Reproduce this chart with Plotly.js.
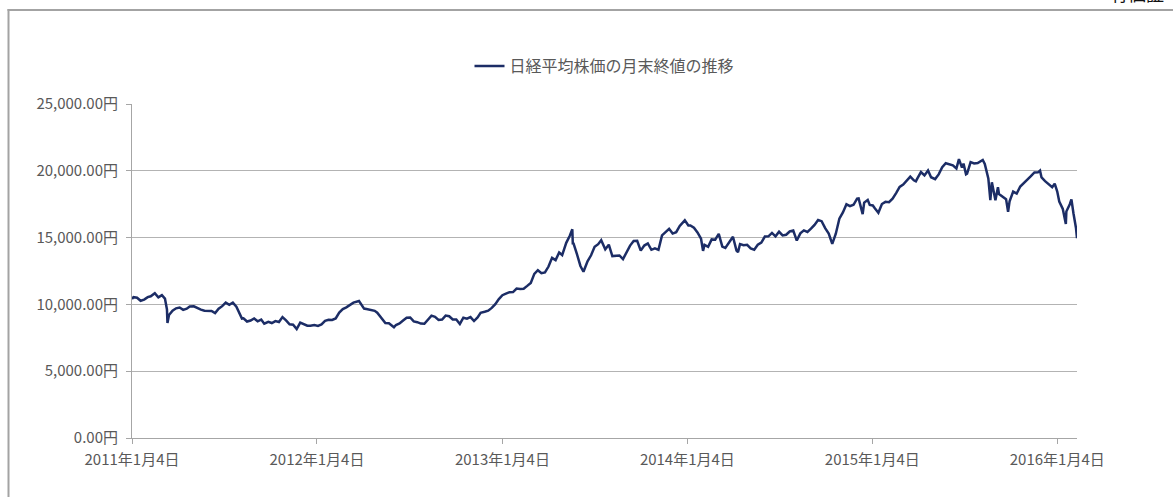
<!DOCTYPE html>
<html>
<head>
<meta charset="utf-8">
<script src="https://cdn.plot.ly/plotly-3.0.1.min.js"></script>
<style>
html,body{margin:0;padding:0;background:#fff;overflow:hidden;}
#chart{width:1173px;height:497px;}
</style>
</head>
<body>
<div id="chart"></div>
<script>
// ---- data ----
const seriesName = "日経平均株価の月末終値の推移";
const dates = [
"2011-01-04","2011-01-07","2011-01-14","2011-01-21","2011-01-28","2011-02-04","2011-02-10","2011-02-18","2011-02-25","2011-03-04","2011-03-10","2011-03-14","2011-03-15","2011-03-18","2011-03-25",
"2011-04-01","2011-04-08","2011-04-15","2011-04-22","2011-04-28","2011-05-06","2011-05-13","2011-05-20","2011-05-27","2011-06-03","2011-06-10","2011-06-17","2011-06-24",
"2011-07-01","2011-07-08","2011-07-15","2011-07-22","2011-07-29","2011-08-05","2011-08-09","2011-08-12","2011-08-19","2011-08-26","2011-09-02","2011-09-09","2011-09-16","2011-09-22","2011-09-30",
"2011-10-07","2011-10-14","2011-10-21","2011-10-28","2011-11-04","2011-11-11","2011-11-18","2011-11-25","2011-12-02","2011-12-09","2011-12-16","2011-12-22","2011-12-30",
"2012-01-06","2012-01-13","2012-01-20","2012-01-27","2012-02-03","2012-02-10","2012-02-17","2012-02-24","2012-03-02","2012-03-09","2012-03-16","2012-03-27","2012-04-06","2012-04-13","2012-04-20","2012-04-27",
"2012-05-02","2012-05-11","2012-05-18","2012-05-25","2012-06-04","2012-06-08","2012-06-15","2012-06-22","2012-06-29","2012-07-06","2012-07-13","2012-07-20","2012-07-27",
"2012-08-03","2012-08-10","2012-08-17","2012-08-24","2012-08-31","2012-09-07","2012-09-14","2012-09-21","2012-09-28","2012-10-05","2012-10-12","2012-10-19","2012-10-26",
"2012-11-02","2012-11-09","2012-11-16","2012-11-22","2012-11-30","2012-12-07","2012-12-14","2012-12-21","2012-12-28",
"2013-01-04","2013-01-11","2013-01-18","2013-01-25","2013-02-01","2013-02-08","2013-02-15","2013-02-22","2013-03-01","2013-03-08","2013-03-15","2013-03-22","2013-03-29",
"2013-04-05","2013-04-12","2013-04-19","2013-04-26","2013-05-02","2013-05-10","2013-05-17","2013-05-22","2013-05-23","2013-05-24","2013-05-31","2013-06-07","2013-06-13","2013-06-21","2013-06-28",
"2013-07-05","2013-07-12","2013-07-18","2013-07-26","2013-08-02","2013-08-09","2013-08-16","2013-08-23","2013-08-30","2013-09-06","2013-09-13","2013-09-20","2013-09-27",
"2013-10-04","2013-10-11","2013-10-18","2013-10-25","2013-11-01","2013-11-08","2013-11-15","2013-11-22","2013-11-29","2013-12-06","2013-12-13","2013-12-20","2013-12-30",
"2014-01-06","2014-01-10","2014-01-17","2014-01-24","2014-01-31","2014-02-04","2014-02-07","2014-02-14","2014-02-21","2014-02-28","2014-03-07","2014-03-14","2014-03-20","2014-03-28",
"2014-04-04","2014-04-11","2014-04-14","2014-04-18","2014-04-25","2014-05-02","2014-05-09","2014-05-16","2014-05-23","2014-05-30","2014-06-06","2014-06-13","2014-06-20","2014-06-27",
"2014-07-04","2014-07-11","2014-07-18","2014-07-25","2014-08-01","2014-08-08","2014-08-15","2014-08-22","2014-08-29","2014-09-05","2014-09-12","2014-09-19","2014-09-26",
"2014-10-03","2014-10-10","2014-10-17","2014-10-24","2014-10-31","2014-11-07","2014-11-14","2014-11-21","2014-11-28","2014-12-05","2014-12-08","2014-12-12","2014-12-16","2014-12-19","2014-12-26","2014-12-30",
"2015-01-05","2015-01-09","2015-01-16","2015-01-23","2015-01-30","2015-02-06","2015-02-13","2015-02-20","2015-02-27","2015-03-06","2015-03-13","2015-03-20","2015-03-27","2015-03-31",
"2015-04-03","2015-04-10","2015-04-17","2015-04-24","2015-04-30","2015-05-08","2015-05-15","2015-05-22","2015-05-29","2015-06-05","2015-06-12","2015-06-19","2015-06-24","2015-06-30",
"2015-07-03","2015-07-08","2015-07-10","2015-07-17","2015-07-24","2015-07-31","2015-08-07","2015-08-10","2015-08-14","2015-08-21","2015-08-25","2015-08-28",
"2015-09-04","2015-09-09","2015-09-11","2015-09-18","2015-09-25","2015-09-29","2015-10-02","2015-10-09","2015-10-16","2015-10-23","2015-10-30",
"2015-11-06","2015-11-13","2015-11-20","2015-11-27","2015-12-01","2015-12-04","2015-12-11","2015-12-18","2015-12-25","2015-12-30",
"2016-01-04","2016-01-08","2016-01-15","2016-01-21","2016-01-22","2016-01-29","2016-02-01","2016-02-05","2016-02-09","2016-02-10","2016-02-12"
];
const closes = [
10398,10541,10499,10274,10360,10543,10606,10842,10526,10693,10434,9620,8605,9206,9536,
9708,9768,9591,9682,9849,9859,9716,9607,9521,9492,9514,9351,9678,
9868,10137,9974,10132,9833,9299,8944,8963,8719,8797,8950,8737,8864,8560,8700,
8606,8747,8678,9050,8801,8514,8479,8160,8643,8536,8401,8395,8455,
8390,8500,8766,8841,8831,8947,9384,9647,9777,9930,10130,10255,9688,9638,9561,9520,
9380,8953,8611,8593,8295,8460,8569,8798,9006,9020,8724,8670,8566,
8555,8891,9162,9070,8839,8871,9159,9110,8870,8863,8534,9002,8933,
9051,8757,9024,9366,9446,9527,9737,10013,10395,
10688,10801,10913,10926,11191,11153,11173,11385,11606,12283,12560,12338,12397,
12833,13485,13316,13884,13694,14607,15138,15627,14483,14612,13774,12877,12445,13230,13677,
14309,14506,14808,14129,14466,13615,13650,13660,13389,13860,14404,14742,14760,
14024,14404,14561,14088,14201,14086,15165,15381,15661,15299,15403,15870,16291,
15908,15912,15734,15391,14914,14008,14462,14313,14865,14841,15274,14327,14224,14696,
15063,14028,13910,14516,14429,14457,14199,14097,14462,14632,15077,15097,15349,15095,
15437,15164,15215,15457,15523,14778,15318,15539,15425,15668,15948,16321,16229,
15708,15300,14532,15291,16413,16880,17490,17357,17459,17920,17935,17371,16755,17621,17818,17450,
17408,17197,16864,17511,17674,17648,17913,18332,18797,18971,19254,19560,19285,19206,
19435,19908,19652,20020,19520,19379,19732,20264,20563,20461,20407,20174,20868,20236,
20540,19737,19780,20650,20544,20585,20724,20808,20520,19436,17806,19136,
17792,18770,18264,18070,17880,16930,17725,18438,18291,18826,19083,
19265,19597,19880,19883,20012,19504,19230,18986,18770,19033,
18450,17698,17147,16017,16958,17518,17865,16819,16085,15713,14952
];
const xTickVals = ["2011-01-04","2012-01-04","2013-01-04","2014-01-04","2015-01-04","2016-01-04"];
const xTickText = ["2011年1月4日","2012年1月4日","2013年1月4日","2014年1月4日","2015年1月4日","2016年1月4日"];
const yTickVals = [0,5000,10000,15000,20000,25000];
const yTickText = ["0.00円","5,000.00円","10,000.00円","15,000.00円","20,000.00円","25,000.00円"];
const cornerText = "有価証";

// ---- layout geometry ----
const W = 1173, H = 497;
const M = {l:132, r:96, t:104, b:59};
const PW = W - M.l - M.r, PH = H - M.t - M.b;
const px = v => (v - M.l) / PW;
const py = v => (H - M.b - v) / PH;

const font = 'Noto Sans CJK JP, Noto Sans, sans-serif';
const grey = '#595959';

const trace = {
  x: dates, y: closes, type: 'scatter', mode: 'lines', name: seriesName,
  line: {color: '#1c2d66', width: 2.5}
};

const layout = {
  width: W, height: H,
  margin: M,
  paper_bgcolor: '#fff', plot_bgcolor: '#fff',
  font: {family: font, size: 15, color: grey},
  showlegend: true,
  legend: {orientation: 'h', x: 0.5, xanchor: 'center', y: py(66), yanchor: 'middle',
           font: {family: font, size: 16, color: grey}, itemwidth: 30},
  xaxis: {
    type: 'date', range: ['2011-01-04', '2016-02-12'],
    tickmode: 'array', tickvals: xTickVals, ticktext: xTickText,
    showgrid: false, zeroline: false,
    showline: true, linecolor: '#a6a6a6', linewidth: 1,
    ticks: 'outside', ticklen: 5, tickcolor: '#a6a6a6', ticklabelstandoff: 3,
    tickfont: {family: font, size: 15, color: grey}
  },
  yaxis: {
    range: [0, 25000], tickmode: 'array', tickvals: yTickVals, ticktext: yTickText,
    showgrid: true, gridcolor: '#b3b3b3', gridwidth: 1,
    zeroline: false, showline: true, linecolor: '#a6a6a6', linewidth: 1,
    ticks: 'outside', ticklen: 5, tickcolor: '#a6a6a6', ticklabelstandoff: 5,
    tickfont: {family: font, size: 15, color: grey}
  },
  shapes: [
    {type:'line', xref:'paper', yref:'paper', x0: px(8.5), x1: px(8.5), y0: py(9), y1: py(H+2),
     line:{color:'#a3a3a3', width:2}},
    {type:'line', xref:'paper', yref:'paper', x0: px(7.5), x1: px(W+2), y0: py(10), y1: py(10),
     line:{color:'#a3a3a3', width:2}}
  ],
  annotations: [
    {xref:'paper', yref:'paper', x: px(1166), y: py(8), xanchor:'right', yanchor:'bottom',
     text: cornerText, showarrow:false, font:{family: font, size: 18, color:'#111'}}
  ]
};

Plotly.newPlot('chart', [trace], layout, {displayModeBar: false, staticPlot: true});
</script>
</body>
</html>
